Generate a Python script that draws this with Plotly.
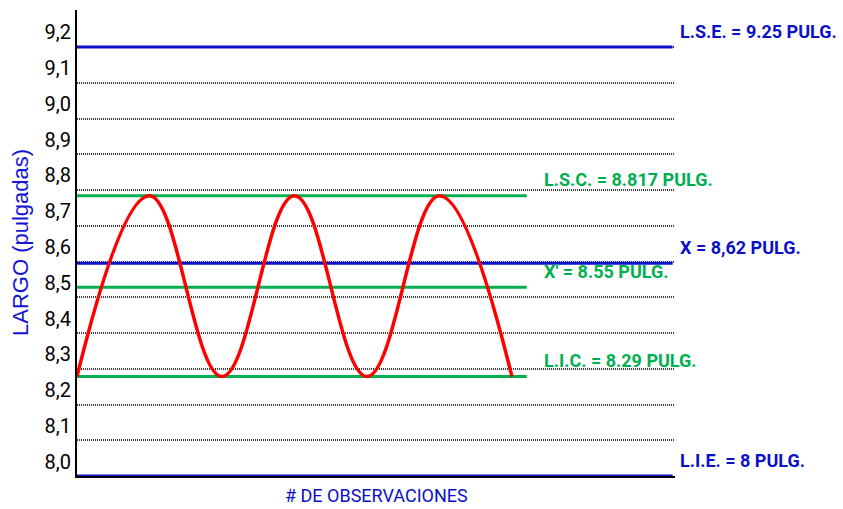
import plotly.graph_objects as go

# Left scale: tick positions and their labels (comma decimals)
tick_values = [8.0, 8.1, 8.2, 8.3, 8.4, 8.5, 8.6, 8.7, 8.8, 8.9, 9.0, 9.1, 9.2]
tick_labels = ["8,0", "8,1", "8,2", "8,3", "8,4", "8,5", "8,6",
               "8,7", "8,8", "8,9", "9,0", "9,1", "9,2"]

# Specification limits (blue) and control limits / means (green)
limit_values = [9.25, 8.817, 8.62, 8.55, 8.29, 8.0]
limit_texts = ["L.S.E. = 9.25 PULG.", "L.S.C. = 8.817 PULG.", "X = 8,62 PULG.",
               "X' = 8.55 PULG.", "L.I.C. = 8.29 PULG.", "L.I.E. = 8 PULG."]
limit_kinds = ["spec", "control", "spec", "control", "control", "spec"]

# Process measurements oscillating between the control limits
observations = [0, 1, 2, 3, 4, 5, 6]
measurements = [8.29, 8.817, 8.29, 8.817, 8.29, 8.817, 8.29]

BLUE = "#0A10C8"
GREEN = "#00B050"
RED = "#FF0000"
LABEL_FONT = "Roboto, Liberation Sans, sans-serif"

X_MAX = 8.25
lse, lie = limit_values[0], limit_values[-1]
grid_levels = [lie + k * (lse - lie) / 12 for k in range(13)]

fig = go.Figure()

annotations = []
for val, txt, kind in zip(limit_values, limit_texts, limit_kinds):
    color = BLUE if kind == "spec" else GREEN
    x_end = (0.996 if kind == "spec" else 0.752) * X_MAX
    fig.add_trace(go.Scatter(
        x=[0, x_end], y=[val, val], mode="lines",
        line=dict(color=color, width=3), hoverinfo="skip", cliponaxis=False,
    ))
    annotations.append(dict(
        xref="x domain", yref="y",
        x=1.005 if kind == "spec" else 0.7776, y=val,
        xanchor="left", yanchor="middle", yshift=16,
        text=f"<b>{txt}</b>", showarrow=False,
        font=dict(family=LABEL_FONT, size=18, color=color),
    ))

fig.add_trace(go.Scatter(
    x=observations, y=measurements, mode="lines",
    line=dict(color=RED, width=3.5, shape="spline", smoothing=1.15),
    hoverinfo="skip",
))

# Empty trace so the labelled length scale is laid out
fig.add_trace(go.Scatter(x=[], y=[], yaxis="y2", mode="lines", hoverinfo="skip"))

annotations.append(dict(
    xref="paper", yref="paper", x=0.5, y=0, xanchor="center", yanchor="middle",
    yshift=-19, text="# DE OBSERVACIONES", showarrow=False,
    font=dict(family=LABEL_FONT, size=18, color=BLUE),
))
annotations.append(dict(
    xref="paper", yref="paper", x=0, y=0.5, xanchor="center", yanchor="middle",
    xshift=-57, textangle=-90, text="LARGO (pulgadas)", showarrow=False,
    font=dict(family="Liberation Sans, Arial, sans-serif", size=22, color="#1414D4"),
))

fig.update_layout(
    width=843, height=509,
    margin=dict(l=77, r=168, t=10, b=33),
    paper_bgcolor="white", plot_bgcolor="white",
    showlegend=False,
    annotations=annotations,
    xaxis=dict(range=[0, X_MAX], showgrid=False, zeroline=False,
               showticklabels=False, ticks="", showline=True,
               linecolor="black", linewidth=2, layer="below traces"),
    # limit scale: dotted grid, no labels
    yaxis=dict(range=[8.0, 9.358], tickvals=grid_levels, showticklabels=False,
               ticks="", showgrid=True, gridcolor="#3a3a3a", gridwidth=2,
               griddash="1px,1px", zeroline=False, showline=False),
    # labelled length scale
    yaxis2=dict(range=[7.96, 9.262], overlaying="y", side="left",
                tickvals=tick_values, ticktext=tick_labels,
                showgrid=False, zeroline=False, ticks="",
                showline=True, linecolor="black", linewidth=2,
                tickfont=dict(family=LABEL_FONT, size=20, color="black")),
)

fig.write_html("out.html")
